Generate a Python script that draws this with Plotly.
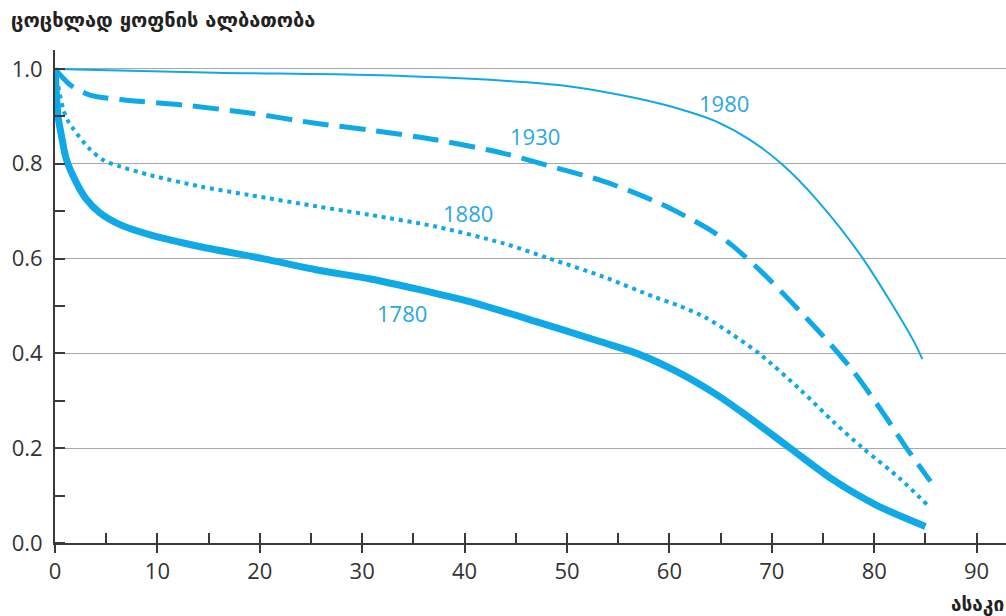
import plotly.graph_objects as go

# ---- data ----
ages_1780 = [0, 0.3, 0.65, 1.1, 2, 3, 4.4, 6.4, 9.3, 14.2, 20.3, 25.6, 30.8, 35.5, 40.5, 47, 53.2, 56.8, 60.5, 64.6, 67, 71.8, 76, 80.2, 85]
surv_1780 = [1.0, 0.90, 0.857, 0.81, 0.764, 0.727, 0.696, 0.671, 0.650, 0.625, 0.600, 0.576, 0.557, 0.535, 0.509, 0.467, 0.425, 0.400, 0.364, 0.313, 0.277, 0.200, 0.133, 0.080, 0.035]

ages_1880 = [0, 0.4, 0.8, 1.2, 1.8, 3.3, 4.7, 6.4, 9.3, 14.2, 19.0, 25.6, 30.8, 37.3, 43.8, 48.3, 53.5, 58.4, 61.0, 63.5, 66.0, 68.8, 72.8, 76.0, 78.9, 82.5, 85.2]
surv_1880 = [1.0, 0.955, 0.915, 0.893, 0.873, 0.833, 0.808, 0.794, 0.776, 0.752, 0.734, 0.710, 0.692, 0.667, 0.632, 0.600, 0.562, 0.520, 0.500, 0.476, 0.442, 0.399, 0.323, 0.256, 0.200, 0.136, 0.080]

ages_1930 = [0, 1.5, 3.4, 6.6, 12.5, 19.0, 25.6, 30.8, 37.3, 43.8, 48.0, 53.3, 56.0, 59.0, 61.5, 64.0, 66.0, 69.0, 72.0, 75.0, 78.0, 81.0, 83.0, 85.5]
surv_1930 = [1.0, 0.966, 0.945, 0.935, 0.924, 0.907, 0.885, 0.871, 0.850, 0.822, 0.797, 0.765, 0.744, 0.717, 0.690, 0.660, 0.630, 0.572, 0.506, 0.437, 0.361, 0.270, 0.205, 0.130]

ages_1980 = [0, 15.8, 30.8, 43.8, 50.3, 56.8, 61.4, 64.6, 67.9, 71.0, 74.4, 78.9, 83.8, 84.7]
surv_1980 = [1.0, 0.992, 0.987, 0.975, 0.963, 0.938, 0.913, 0.889, 0.850, 0.799, 0.724, 0.600, 0.428, 0.388]

cohorts = ["1780", "1880", "1930", "1980"]
label_age = [33.9, 40.3, 46.9, 65.3]
label_surv = [0.486, 0.697, 0.859, 0.929]

x_ticks = [0, 10, 20, 30, 40, 50, 60, 70, 80, 90]
y_ticks = [0.0, 0.2, 0.4, 0.6, 0.8, 1.0]
y_title = "ცოცხლად ყოფნის ალბათობა"
x_title = "ასაკი"

LINE = "#0ea9e6"
TEXT = "#2aa8e0"
AXIS = "#3a3a3a"
FONT = "Open Sans, DejaVu Sans, sans-serif"
GEO_FONT = "DejaVu Sans, sans-serif"

fig = go.Figure()

series = [
    (ages_1780, surv_1780, dict(width=7, dash="solid")),
    (ages_1880, surv_1880, dict(width=4, dash="4px,4.7px")),
    (ages_1930, surv_1930, dict(width=5, dash="26px,11px")),
    (ages_1980, surv_1980, dict(width=2, dash="solid")),
]
for (ax, sv, st), name in zip(series, cohorts):
    fig.add_trace(go.Scatter(
        x=ax, y=sv, mode="lines", name=name,
        line=dict(color=LINE, width=st["width"], dash=st["dash"], shape="spline", smoothing=0.8),
        showlegend=False, hoverinfo="skip",
    ))

# invisible trace to anchor overlay axis for inner minor ticks
fig.add_trace(go.Scatter(x=[None], y=[None], xaxis="x2", showlegend=False, hoverinfo="skip"))

for name, xa, ya in zip(cohorts, label_age, label_surv):
    fig.add_annotation(x=xa, y=ya, text=name, showarrow=False,
                       font=dict(family=FONT, size=22, color=TEXT))

fig.add_annotation(xref="paper", yref="paper", x=1, y=0, xanchor="right", yanchor="top",
                   yshift=-48, text="<b>" + x_title + "</b>", showarrow=False,
                   font=dict(family=GEO_FONT, size=19, color="#222"))

fig.update_layout(
    width=1006, height=616,
    margin=dict(l=55, r=0, t=50, b=73),
    plot_bgcolor="white", paper_bgcolor="white",
    title=dict(text="<b>" + y_title + "</b>", x=11 / 1006, xanchor="left", xref="container",
               y=1 - 20 / 616, yanchor="middle", yref="container",
               font=dict(family=GEO_FONT, size=20, color="#222")),
    xaxis=dict(range=[0, 92.87], tickvals=x_ticks, ticks="outside", ticklen=8, tickwidth=1.5,
               tickcolor=AXIS, showline=True, linecolor=AXIS, linewidth=2, showgrid=False,
               zeroline=False, tickfont=dict(family=FONT, size=22, color="#333")),
    xaxis2=dict(overlaying="x", matches="x", dtick=5, tick0=0, ticks="inside", ticklen=10,
                tickwidth=1.5, tickcolor=AXIS, showticklabels=False, showline=False,
                showgrid=False, zeroline=False, side="bottom", anchor="y"),
    yaxis=dict(range=[0, 1.04], tickvals=y_ticks, ticktext=[f"{v:.1f}" for v in y_ticks],
               ticks="", showline=True, linecolor=AXIS, linewidth=2, showgrid=True,
               gridcolor="#a8a8a8", gridwidth=1.2, zeroline=False, ticklabelstandoff=6,
               tickfont=dict(family=FONT, size=22, color="#333"),
               minor=dict(dtick=0.1, tick0=0, ticks="inside", ticklen=10, tickwidth=1.5,
                          tickcolor=AXIS, showgrid=False)),
)

fig.write_html("out.html", config={"displayModeBar": False},
               post_script="document.body.style.margin='0';")
